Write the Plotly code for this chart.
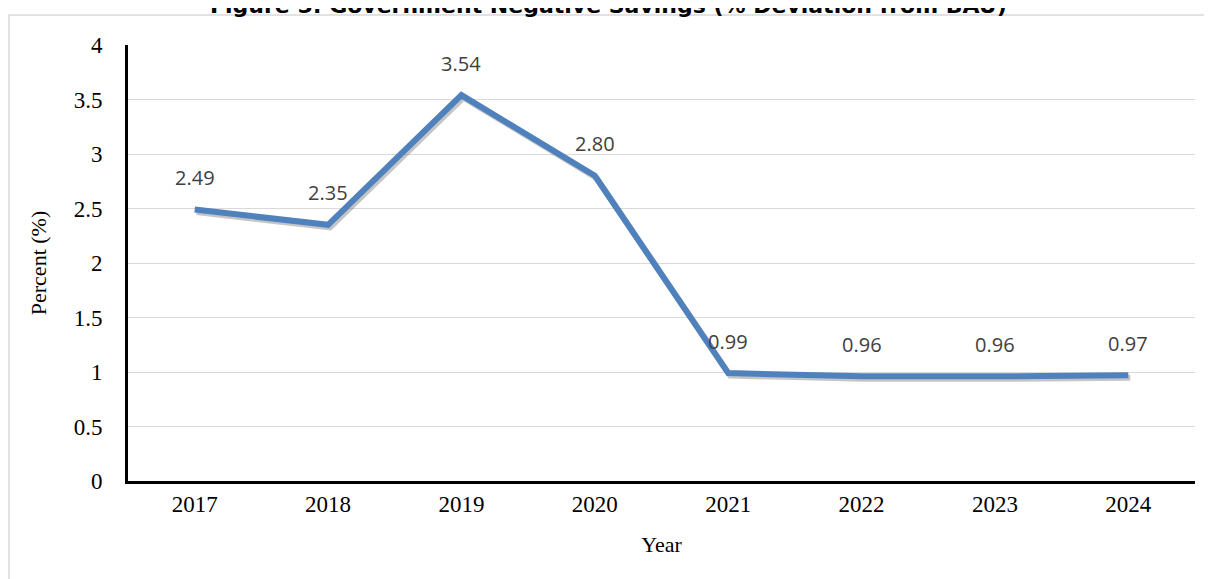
import plotly.graph_objects as go

years = ["2017", "2018", "2019", "2020", "2021", "2022", "2023", "2024"]
values = [2.49, 2.35, 3.54, 2.80, 0.99, 0.96, 0.96, 0.97]
labels = ["2.49", "2.35", "3.54", "2.80", "0.99", "0.96", "0.96", "0.97"]

# page body adds an 8px offset; figure coords = picture coords - 8
W, H = 1204, 571
L, R, T, B = 120, 17, 37, 98
pw, ph = W - L - R, H - T - B

SERIF = "Liberation Serif, Times New Roman, serif"

fig = go.Figure()
# invisible trace to carry the category axis
fig.add_trace(go.Scatter(x=years, y=values, mode="lines", line=dict(color="rgba(0,0,0,0)", width=0),
                         hoverinfo="skip", showlegend=False))
# soft shadow on an overlaid axis with slightly shifted range
fig.add_trace(go.Scatter(x=years, y=values, mode="lines", xaxis="x2", yaxis="y2",
                         line=dict(color="rgba(90,90,90,0.35)", width=6),
                         hoverinfo="skip", showlegend=False))
# main line on top
fig.add_trace(go.Scatter(x=years, y=values, mode="lines", xaxis="x3", yaxis="y3",
                         line=dict(color="#4f81bd", width=6),
                         showlegend=False))

for i, (v, t) in enumerate(zip(values, labels)):
    fig.add_annotation(x=i, y=v, xref="x", yref="y", text=t, showarrow=False, yshift=32,
                       font=dict(family="Open Sans, Liberation Sans, sans-serif", size=20, color="#404040"))

def px_x(p):
    return (p - L) / pw

def px_y(p):
    return (H - B - p) / ph

# outer frame
fig.add_shape(type="rect", xref="paper", yref="paper",
              x0=px_x(1), x1=px_x(1215), y0=px_y(7), y1=px_y(590),
              line=dict(color="#d9d9d9", width=1.5), fillcolor="rgba(0,0,0,0)", layer="below")

# title (partly cut at the top edge, as in the reference)
fig.add_annotation(text="<b>Figure 5: Government Negative Savings (% Deviation from BAU)</b>",
                   xref="paper", yref="paper", x=px_x(600), y=px_y(-3), xanchor="center", yanchor="middle",
                   showarrow=False,
                   font=dict(family="DejaVu Sans, sans-serif", size=22, color="black"))

fig.update_layout(
    width=W, height=H,
    margin=dict(l=L, r=R, t=T, b=B, autoexpand=False),
    paper_bgcolor="white", plot_bgcolor="white",
    xaxis=dict(type="category", range=[-0.5, 7.5], showgrid=False, showline=True,
               linecolor="black", linewidth=3, ticks="", zeroline=False,
               tickfont=dict(family=SERIF, size=23, color="black"),
               title=dict(text="Year", standoff=22,
                          font=dict(family=SERIF, size=22, color="black"))),
    yaxis=dict(range=[0, 4], dtick=0.5, showgrid=True, gridcolor="#d9d9d9", gridwidth=1.2,
               showline=True, linecolor="black", linewidth=3, zeroline=False, ticks="",
               ticklabelstandoff=18,
               tickfont=dict(family=SERIF, size=23, color="black"),
               title=dict(text="Percent (%)", standoff=21,
                          font=dict(family=SERIF, size=22, color="black"))),
    xaxis2=dict(type="category", range=[-0.5 - 2 / 133.4, 7.5 - 2 / 133.4], overlaying="x",
                visible=False),
    yaxis2=dict(range=[0 + 2.5 / 109, 4 + 2.5 / 109], overlaying="y", visible=False),
    xaxis3=dict(type="category", range=[-0.5, 7.5], overlaying="x", visible=False),
    yaxis3=dict(range=[0, 4], overlaying="y", visible=False),
)

fig.write_html("out.html")
